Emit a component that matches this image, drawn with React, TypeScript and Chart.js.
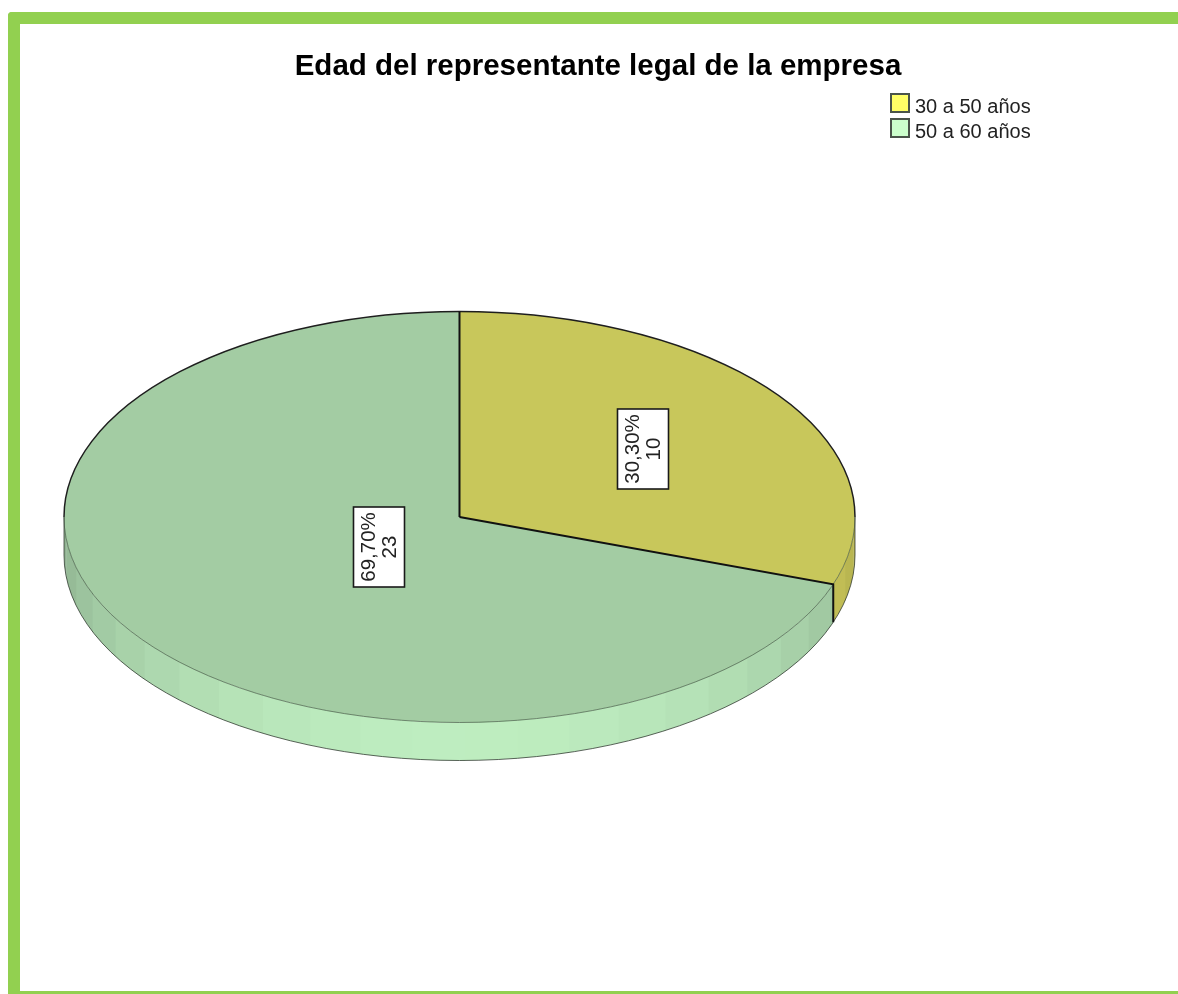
import React, { useEffect, useRef } from "react";
import { Chart, registerables } from "chart.js";

Chart.register(...registerables);

const TITLE = "Edad del representante legal de la empresa";
const CATEGORIES = ["30 a 50 años", "50 a 60 años"];
const COUNTS = [10, 23];
const LEGEND_COLORS = ["#FFFF66", "#CCFFCC"];
const FACE_COLORS = ["#C8C75B", "#A3CCA3"];
const SIDE_BASE = [[255, 250, 112], [204, 255, 206]];
const LABEL_RADII = [0.57, 0.25];

const FONT = '"Liberation Sans", Arial, sans-serif';
const CX = 439.5; // canvas coordinates of the pie's centre
const CY = 493;
const RX = 395.5;
const RY = 205.5;
const DEPTH = 38;
const BAND = (7.65 * Math.PI) / 180;
const BAND_OFFSET = (5.05 * Math.PI) / 180;

function swatch(color: string) {
  // taller than the square so that it sits above the item's centre
  const c = document.createElement("canvas");
  c.width = 20;
  c.height = 28;
  const g = c.getContext("2d")!;
  g.fillStyle = color;
  g.fillRect(1, 1, 18, 18);
  g.strokeStyle = "#4A544A";
  g.lineWidth = 2;
  g.strokeRect(1, 1, 18, 18);
  return c;
}

function sideColor(base: number[], angle: number) {
  const f = 0.69 + 0.24 * Math.max(0, Math.sin(angle));
  return `rgb(${base.map((v) => Math.round(v * f)).join(",")})`;
}

const pie3d = {
  id: "pie3d",
  beforeDatasetsDraw(chart: any) {
    const ctx = chart.ctx;
    const arcs = chart.getDatasetMeta(0).data;
    arcs.forEach((arc: any, i: number) => {
      const from = Math.max(arc.startAngle, 0);
      const to = Math.min(arc.endAngle, Math.PI);
      if (to <= from) return;
      let a = from;
      while (a < to) {
        const k = Math.floor((a - BAND_OFFSET) / BAND + 1e-6) + 1;
        const next = Math.min(to, BAND_OFFSET + k * BAND);
        const mid = (a + next) / 2;
        ctx.beginPath();
        ctx.ellipse(CX, CY, RX, RY, 0, a, Math.min(to, next + 0.006));
        ctx.ellipse(CX, CY + DEPTH, RX, RY, 0, Math.min(to, next + 0.006), a, true);
        ctx.closePath();
        ctx.fillStyle = sideColor(SIDE_BASE[i], mid);
        ctx.fill();
        a = next;
      }
    });
    const first = arcs[0];
    const sx = RX / first.outerRadius;
    const sy = RY / first.outerRadius;
    ctx.save();
    ctx.translate(CX, CY);
    ctx.scale(sx, sy);
    ctx.translate(-first.x, -first.y);
  },
  afterDatasetsDraw(chart: any) {
    const ctx = chart.ctx;
    ctx.restore();
    const arcs = chart.getDatasetMeta(0).data;

    ctx.lineCap = "butt";
    // thin front edges
    ctx.strokeStyle = "rgba(50,70,50,0.6)";
    ctx.lineWidth = 1;
    ctx.beginPath();
    ctx.ellipse(CX, CY, RX, RY, 0, 0, Math.PI);
    ctx.stroke();
    ctx.strokeStyle = "rgba(40,50,40,0.75)";
    ctx.beginPath();
    ctx.ellipse(CX, CY + DEPTH, RX, RY, 0, 0, Math.PI);
    ctx.stroke();
    ctx.beginPath();
    ctx.moveTo(CX - RX, CY);
    ctx.lineTo(CX - RX, CY + DEPTH);
    ctx.moveTo(CX + RX, CY);
    ctx.lineTo(CX + RX, CY + DEPTH);
    ctx.stroke();

    // back rim
    ctx.strokeStyle = "#1E1E1E";
    ctx.lineWidth = 1.5;
    ctx.beginPath();
    ctx.ellipse(CX, CY, RX, RY, 0, Math.PI, 2 * Math.PI);
    ctx.stroke();

    // slice edges
    ctx.strokeStyle = "#111";
    ctx.lineWidth = 2;
    arcs.forEach((arc: any) => {
      const px = CX + RX * Math.cos(arc.startAngle);
      const py = CY + RY * Math.sin(arc.startAngle);
      ctx.beginPath();
      ctx.moveTo(CX, CY);
      ctx.lineTo(px, py);
      if (Math.sin(arc.startAngle) > 0) {
        ctx.lineTo(px, py + DEPTH);
      }
      ctx.stroke();
    });

    // value boxes
    const total = COUNTS.reduce((s, v) => s + v, 0);
    arcs.forEach((arc: any, i: number) => {
      const mid = (arc.startAngle + arc.endAngle) / 2;
      const x = CX + RX * LABEL_RADII[i] * Math.cos(mid);
      const y = CY + RY * LABEL_RADII[i] * Math.sin(mid);
      const pct = ((COUNTS[i] / total) * 100).toFixed(2).replace(".", ",") + "%";
      ctx.save();
      ctx.translate(Math.round(x), Math.round(y));
      ctx.fillStyle = "#fff";
      ctx.fillRect(-25.5, -40, 51, 80);
      ctx.strokeStyle = "#1A1A1A";
      ctx.lineWidth = 1.6;
      ctx.strokeRect(-25.5, -40, 51, 80);
      ctx.rotate(-Math.PI / 2);
      ctx.fillStyle = "#222";
      ctx.font = `20.5px ${FONT}`;
      ctx.textAlign = "center";
      ctx.textBaseline = "middle";
      ctx.fillText(pct, 0, -10);
      ctx.fillText(String(COUNTS[i]), 0, 11);
      ctx.restore();
    });
  },
};

const placeBlocks = {
  id: "placeBlocks",
  afterLayout(chart: any) {
    const l = chart.legend;
    const w = l.right - l.left;
    const h = l.bottom - l.top;
    l.left = 870;
    l.right = 870 + w + 4;
    l.top = 68;
    l.bottom = 68 + h + 8;
    const t = chart.titleBlock;
    t.left = 0;
    t.right = chart.width;
  },
};

export default function App() {
  const ref = useRef<HTMLCanvasElement>(null);
  useEffect(() => {
    const chart = new Chart(ref.current!, {
      type: "pie",
      data: {
        labels: CATEGORIES,
        datasets: [
          {
            data: COUNTS,
            backgroundColor: FACE_COLORS,
            borderWidth: 0,
            clip: false,
          } as any,
        ],
      },
      options: {
        responsive: false,
        animation: false,
        events: [],
        layout: { padding: { left: 44, right: 172, top: 0, bottom: 0 } },
        plugins: {
          tooltip: { enabled: false },
          title: {
            display: true,
            text: TITLE,
            color: "#000",
            font: { family: FONT, size: 29.5, weight: "bold" },
            padding: { top: 25.5, bottom: 10 },
            fullSize: true,
          },
          legend: {
            display: true,
            position: "right",
            align: "start",
            fullSize: false,
            labels: {
              color: "#222",
              font: { family: FONT, size: 20 },
              usePointStyle: true,
              boxWidth: 10,
              boxHeight: 14,
              padding: 5,
              generateLabels: () =>
                CATEGORIES.map((text, i) => ({
                  text,
                  pointStyle: swatch(LEGEND_COLORS[i]),
                  fontColor: "#222",
                  hidden: false,
                  index: i,
                })),
            },
          },
        },
      } as any,
      plugins: [pie3d, placeBlocks],
    });
    return () => chart.destroy();
  }, []);
  return (
    <div
      style={{
        position: "fixed",
        left: 0,
        top: 0,
        width: 1178,
        height: 994,
        overflow: "hidden",
        background: "#fff",
      }}
    >
      <div
        style={{
          position: "absolute",
          left: 8,
          top: 12,
          width: 1300,
          height: 982,
          boxSizing: "border-box",
          borderLeft: "12px solid #92D050",
          borderTop: "12px solid #92D050",
          borderBottom: "3px solid #92D050",
          borderTopLeftRadius: 4,
        }}
      />
      <canvas
        ref={ref}
        width={1156}
        height={966}
        style={{ position: "absolute", left: 20, top: 24, display: "block" }}
      />
    </div>
  );
}
